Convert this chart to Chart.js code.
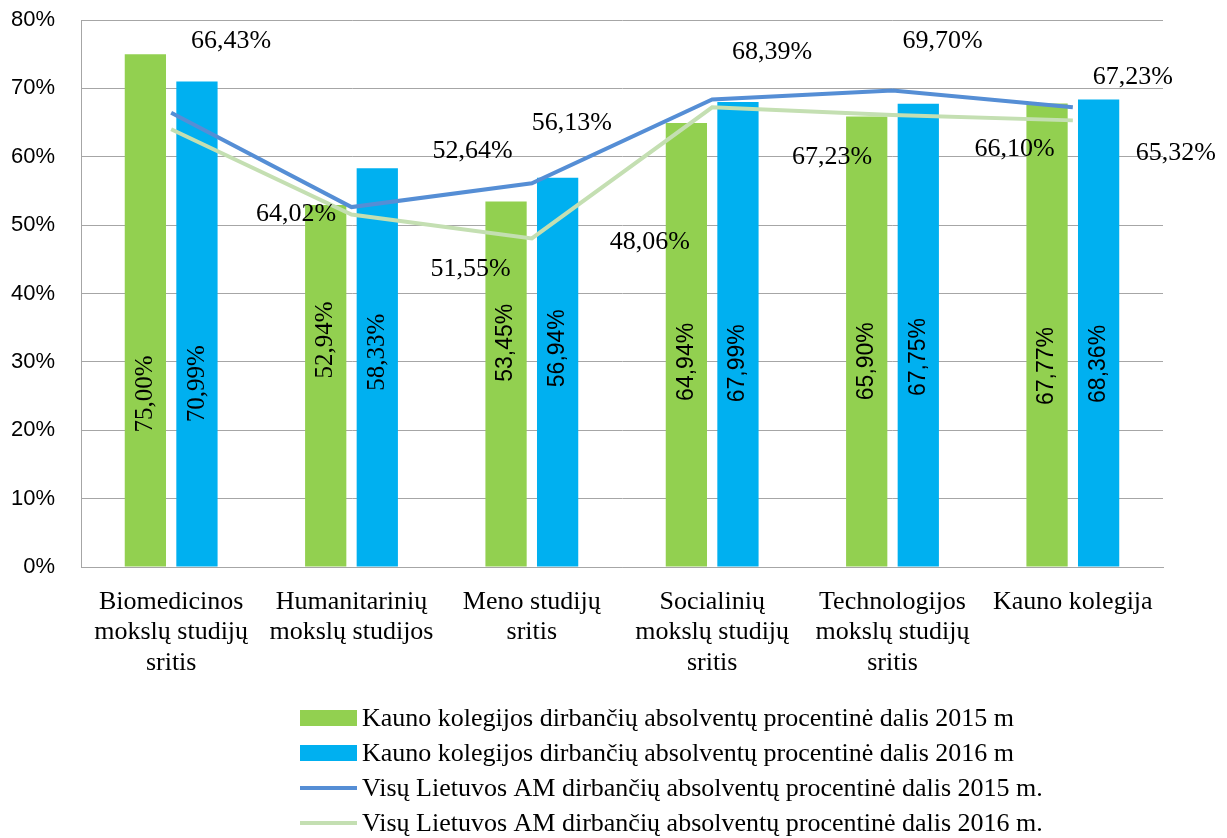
<!DOCTYPE html>
<html>
<head>
<meta charset="utf-8">
<script src="https://cdn.jsdelivr.net/npm/chart.js@4.4.1/dist/chart.umd.min.js"></script>
<style>
    html, body { margin: 0; padding: 0; background: #fff; }
    #wrap { width: 1227px; height: 838px; position: relative; }
</style>
</head>
<body>
<div id="wrap"><canvas id="chart"></canvas></div>
<script>
const categories = [
    ["Biomedicinos", "mokslų studijų", "sritis"],
    ["Humanitarinių", "mokslų studijos"],
    ["Meno studijų", "sritis"],
    ["Socialinių", "mokslų studijų", "sritis"],
    ["Technologijos", "mokslų studijų", "sritis"],
    ["Kauno kolegija"]
];

const seriesNames = [
    "Kauno kolegijos dirbančių absolventų procentinė dalis 2015 m",
    "Kauno kolegijos dirbančių absolventų procentinė dalis 2016 m",
    "Visų Lietuvos AM dirbančių absolventų procentinė dalis 2015 m.",
    "Visų Lietuvos AM dirbančių absolventų procentinė dalis 2016 m."
];

const kk2015 = [75.00, 52.94, 53.45, 64.94, 65.90, 67.77];
const kk2016 = [70.99, 58.33, 56.94, 67.99, 67.75, 68.36];
const lt2015 = [66.43, 52.64, 56.13, 68.39, 69.70, 67.23];
const lt2016 = [64.02, 51.55, 48.06, 67.23, 66.10, 65.32];

const yTicks = [0, 10, 20, 30, 40, 50, 60, 70, 80];

// where the rotated bar labels sit (axis units) - they are not centred in the original
const barLabelAt = [
    [25.3, 33.2, 32.8, 30.0, 30.1, 29.4],
    [26.8, 31.4, 32.0, 29.8, 30.7, 29.7]
];

// pixel offsets of the line labels from their points
const lineLabelOffsets = [
    [[60, -72], [121, -56], [40, -60], [60, -47], [50, -49], [60, -30]],
    [[125, 85], [119, 55], [118, 4], [120, 50], [122, 34], [103, 33]]
];

const colors = {
    kk2015: "#92d050",
    kk2016: "#00b0f0",
    lt2015: "#558ed5",
    lt2016: "#c4dfb2",
    grid: "#a6a6a6"
};

const SERIF = "'Liberation Serif', 'Times New Roman', serif";
const SANS = "'Liberation Sans', Arial, sans-serif";

function fmt(v) {
    return v.toFixed(2).replace(".", ",") + "%";
}

const valueLabels = {
    id: "valueLabels",
    afterDatasetsDraw(chart) {
        const { ctx, scales } = chart;
        ctx.save();
        ctx.fillStyle = "#000";
        ctx.textAlign = "center";
        ctx.textBaseline = "middle";

        [0, 1].forEach(di => {
            const meta = chart.getDatasetMeta(di);
            const values = chart.data.datasets[di].data;
            meta.data.forEach((bar, i) => {
                const y = scales.y.getPixelForValue(barLabelAt[di][i]);
                ctx.save();
                ctx.translate(bar.x, y);
                ctx.rotate(-Math.PI / 2);
                ctx.font = i < 2 ? "25px " + SERIF : "23px " + SANS;
                ctx.fillText(fmt(values[i]), 0, 0);
                ctx.restore();
            });
        });

        ctx.font = "26px " + SERIF;
        [2, 3].forEach((di, k) => {
            const meta = chart.getDatasetMeta(di);
            const values = chart.data.datasets[di].data;
            meta.data.forEach((pt, i) => {
                const off = lineLabelOffsets[k][i];
                ctx.fillText(fmt(values[i]), pt.x + off[0], pt.y + off[1]);
            });
        });
        ctx.restore();
    }
};

const bottomLegend = {
    id: "bottomLegend",
    afterDraw(chart) {
        const { ctx, chartArea } = chart;
        const x = 300, boxW = 57, boxH = 16, rowGap = 35;
        const top = chartArea.bottom + 151;
        ctx.save();
        ctx.font = "26px " + SERIF;
        ctx.textAlign = "left";
        ctx.textBaseline = "middle";
        chart.data.datasets.forEach((ds, i) => {
            const y = top + i * rowGap;
            if (ds.type === "line") {
                ctx.strokeStyle = ds.borderColor;
                ctx.lineWidth = 4;
                ctx.beginPath();
                ctx.moveTo(x, y);
                ctx.lineTo(x + boxW, y);
                ctx.stroke();
            } else {
                ctx.fillStyle = ds.backgroundColor;
                ctx.fillRect(x, y - boxH / 2, boxW, boxH);
            }
            ctx.fillStyle = "#000";
            ctx.fillText(ds.label, x + boxW + 5, y + 1);
        });
        ctx.restore();
    }
};

new Chart(document.getElementById("chart"), {
    data: {
        labels: categories,
        datasets: [
            {
                type: "bar",
                label: seriesNames[0],
                data: kk2015,
                backgroundColor: colors.kk2015,
                categoryPercentage: 0.572,
                barPercentage: 0.8,
                order: 2
            },
            {
                type: "bar",
                label: seriesNames[1],
                data: kk2016,
                backgroundColor: colors.kk2016,
                categoryPercentage: 0.572,
                barPercentage: 0.8,
                order: 2
            },
            {
                type: "line",
                label: seriesNames[2],
                data: lt2015,
                borderColor: colors.lt2015,
                backgroundColor: colors.lt2015,
                borderWidth: 4,
                pointRadius: 0,
                tension: 0,
                order: 0
            },
            {
                type: "line",
                label: seriesNames[3],
                data: lt2016,
                borderColor: colors.lt2016,
                backgroundColor: colors.lt2016,
                borderWidth: 4,
                pointRadius: 0,
                tension: 0,
                order: 1
            }
        ]
    },
    options: {
        animation: false,
        responsive: true,
        maintainAspectRatio: false,
        layout: { padding: { left: 0, top: 20, right: 64, bottom: 161 } },
        plugins: {
            legend: { display: false },
            tooltip: { enabled: false }
        },
        scales: {
            x: {
                grid: { display: false },
                border: { display: true, color: colors.grid, width: 1 },
                ticks: {
                    color: "#000",
                    padding: 12,
                    maxRotation: 0,
                    autoSkip: false,
                    font: { family: SERIF, size: 26, lineHeight: 1.17 }
                },
                afterFit(scale) { scale.height = 110; }
            },
            y: {
                min: 0,
                max: 80,
                afterBuildTicks(scale) {
                    scale.ticks = yTicks.map(v => ({ value: v }));
                },
                grid: { color: colors.grid, lineWidth: 1, drawTicks: false },
                border: { display: true, color: colors.grid, width: 1 },
                ticks: {
                    color: "#000",
                    padding: 26,
                    font: { family: SANS, size: 22 },
                    callback: v => v + "%"
                },
                afterFit(scale) {
                    scale.width = 81;
                    // tick padding would otherwise also push the plot down
                    scale.paddingTop = 0;
                    scale.paddingBottom = 0;
                }
            }
        }
    },
    plugins: [valueLabels, bottomLegend]
});
</script>
</body>
</html>
